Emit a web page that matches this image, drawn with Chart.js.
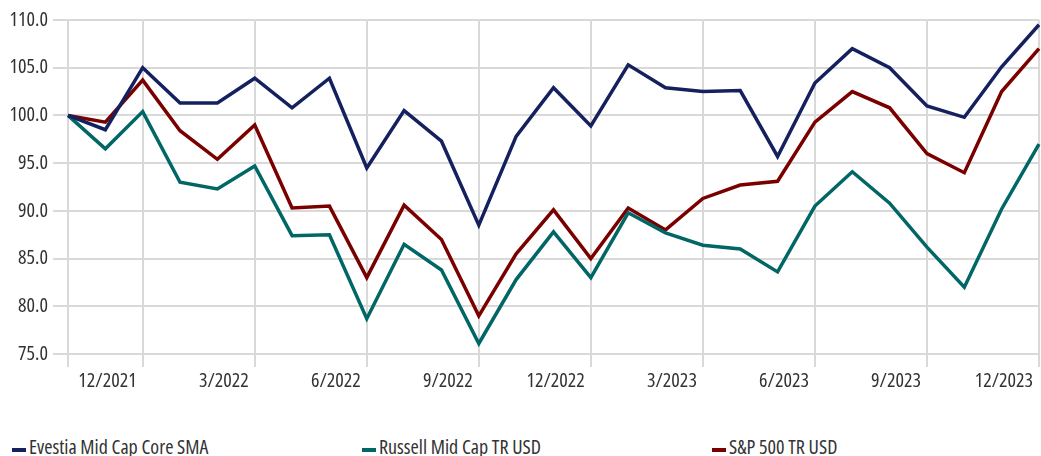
<!DOCTYPE html>
<html>
<head>
<meta charset="utf-8">
<script src="https://cdn.jsdelivr.net/npm/chart.js@4/dist/chart.umd.min.js"></script>
<style>
  html, body { margin: 0; padding: 0; background: #fff; }
  #wrap { position: relative; width: 1041px; height: 456px; overflow: hidden; }
  #box { position: absolute; left: 0; top: 0; width: 1041px; height: 400px; }
  #legend { position: absolute; left: 12px; top: 437px; display: flex; font-family: "Open Sans", sans-serif; font-stretch: condensed; font-size: 20px; line-height: 20px; color: #333; }
  #legend .item { width: 350px; display: flex; align-items: center; white-space: nowrap; }
  #legend .swatch { width: 14px; height: 4px; margin-right: 3px; margin-top: 5px; }
</style>
</head>
<body>
<div id="wrap">
  <div id="box"><canvas id="perf-chart"></canvas></div>
  <div id="legend"></div>
</div>
<script>
const months = [
  "10/2021", "11/2021", "12/2021", "1/2022", "2/2022", "3/2022", "4/2022", "5/2022", "6/2022",
  "7/2022", "8/2022", "9/2022", "10/2022", "11/2022", "12/2022", "1/2023", "2/2023", "3/2023",
  "4/2023", "5/2023", "6/2023", "7/2023", "8/2023", "9/2023", "10/2023", "11/2023", "12/2023"
];

const evestia = [
  100.0, 98.5, 105.0, 101.3, 101.3, 103.9, 100.8, 103.9, 94.5,
  100.5, 97.3, 88.5, 97.8, 102.9, 98.9, 105.3, 102.9, 102.5,
  102.6, 95.7, 103.4, 107.0, 105.0, 101.0, 99.8, 105.1, 109.5
];

const russell = [
  100.0, 96.5, 100.4, 93.0, 92.3, 94.7, 87.4, 87.5, 78.7,
  86.5, 83.8, 76.1, 82.8, 87.8, 83.0, 89.8, 87.7, 86.4,
  86.0, 83.6, 90.5, 94.1, 90.8, 86.2, 82.0, 90.2, 97.0
];

const sp500 = [
  100.0, 99.3, 103.7, 98.4, 95.4, 99.0, 90.3, 90.5, 83.0,
  90.6, 87.0, 79.0, 85.5, 90.1, 85.0, 90.3, 88.0, 91.3,
  92.7, 93.1, 99.3, 102.5, 100.8, 96.0, 94.0, 102.5, 107.0
];

const seriesNames = ["Evestia Mid Cap Core SMA", "Russell Mid Cap TR USD", "S&P 500 TR USD"];
const seriesColors = ["#14215e", "#006666", "#7a0000"];

const yMin = 75;
const yMax = 110;
const yStep = 5;

// the stretch keyword rides in the weight slot so the canvas font string asks for the narrow width
const tickFont = { family: "'Open Sans', sans-serif", size: 20, weight: "condensed" };
const isQuarterEnd = label => parseInt(label.split("/")[0], 10) % 3 === 0;

const ctx = document.getElementById("perf-chart").getContext("2d");

new Chart(ctx, {
  type: "line",
  data: {
    labels: months,
    datasets: [evestia, russell, sp500].map((vals, i) => ({
      label: seriesNames[i],
      data: vals,
      borderColor: seriesColors[i],
      backgroundColor: seriesColors[i],
      borderWidth: 3.5,
      pointRadius: 0,
      tension: 0,
    })),
  },
  options: {
    responsive: true,
    maintainAspectRatio: false,
    animation: false,
    layout: { padding: { top: 20, right: 0, bottom: 0, left: 0 } },
    plugins: {
      legend: { display: false },
      tooltip: { enabled: false },
    },
    scales: {
      x: {
        offset: false,
        border: { display: false },
        grid: {
          color: c => (c.index === 0 || isQuarterEnd(months[c.index]) ? "#d9d9d9" : "rgba(0,0,0,0)"),
          lineWidth: 2,
          tickLength: 13,
          drawTicks: true,
        },
        ticks: {
          autoSkip: false,
          maxRotation: 0,
          align: "end",
          labelOffset: -6,
          padding: 2,
          color: "#333",
          font: tickFont,
          callback: (v, i) => (i > 0 && isQuarterEnd(months[i]) ? months[i] : ""),
        },
        afterFit: axis => { axis.height = 46; },
      },
      y: {
        min: yMin,
        max: yMax,
        border: { display: false },
        grid: { color: "#d9d9d9", lineWidth: 2, tickLength: 15 },
        ticks: {
          stepSize: yStep,
          padding: 5,
          color: "#333",
          font: tickFont,
          callback: v => v.toFixed(1),
        },
        afterFit: axis => { axis.width = 68; },
      },
    },
  },
});

const legendEl = document.getElementById("legend");
seriesNames.forEach((name, i) => {
  const item = document.createElement("div");
  item.className = "item";
  const sw = document.createElement("span");
  sw.className = "swatch";
  sw.style.background = seriesColors[i];
  const txt = document.createElement("span");
  txt.textContent = name;
  item.appendChild(sw);
  item.appendChild(txt);
  legendEl.appendChild(item);
});
</script>
</body>
</html>
